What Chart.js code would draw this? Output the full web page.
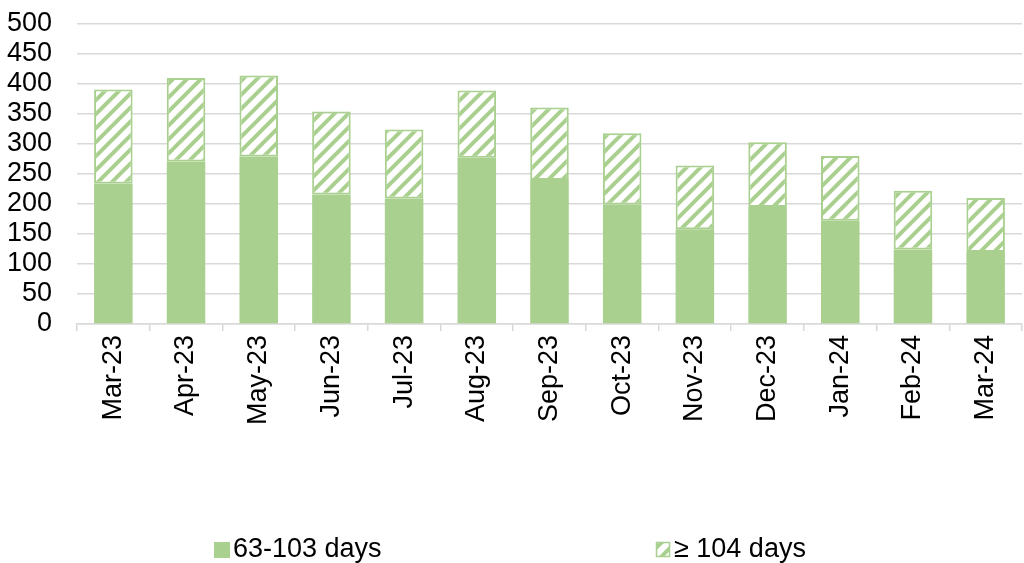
<!DOCTYPE html>
<html>
<head>
<meta charset="utf-8">
<script src="https://cdn.jsdelivr.net/npm/chart.js@4.4.1/dist/chart.umd.min.js"></script>
<style>
  html, body { margin: 0; padding: 0; background: #fff; }
  #wrap { width: 1024px; height: 563px; position: relative; }
</style>
</head>
<body>
<div id="wrap"><canvas id="myChart"></canvas></div>
<script>
// Data.
const months = ['Mar-23', 'Apr-23', 'May-23', 'Jun-23', 'Jul-23', 'Aug-23', 'Sep-23',
  'Oct-23', 'Nov-23', 'Dec-23', 'Jan-24', 'Feb-24', 'Mar-24'];
const days63to103 = [234, 271, 279, 216, 209, 277, 240, 199, 158, 195, 172, 124, 120];
const days104plus = [157, 139, 135, 138, 115, 112, 121, 119, 106, 108, 108, 98, 90];
const seriesNames = ['63-103 days', '\u2265 104 days'];

const green = '#a9d08e';
const gridGrey = '#d9d9d9';
const fontFamily = '"Liberation Sans", Arial, sans-serif';

// Diagonal hatch used for the ≥ 104 days series.
const makeHatch = () => {
  const size = 14;
  const tile = document.createElement('canvas');
  tile.width = size;
  tile.height = size;
  const g = tile.getContext('2d');
  g.fillStyle = '#fff';
  g.fillRect(0, 0, size, size);
  g.strokeStyle = green;
  g.lineWidth = 4;
  g.beginPath();
  g.moveTo(-4, size + 4); g.lineTo(size + 4, -4);
  g.moveTo(-4, 4); g.lineTo(4, -4);
  g.moveTo(size - 4, size + 4); g.lineTo(size + 4, size - 4);
  g.stroke();
  return g.createPattern(tile, 'repeat');
};
const hatch = makeHatch();

// Legend drawn by hand so the two items sit far apart like the original.
const bottomLegend = {
  id: 'bottomLegend',
  afterDraw(chart) {
    const c = chart.ctx;
    c.save();
    c.font = '27px ' + fontFamily;
    c.textBaseline = 'middle';

    c.fillStyle = green;
    c.fillRect(214, 542, 16, 16);
    c.fillStyle = '#000';
    c.fillText(seriesNames[0], 233, 550);

    c.fillStyle = hatch;
    c.fillRect(656, 542, 14, 15);
    c.strokeStyle = green;
    c.lineWidth = 1.5;
    c.strokeRect(656.5, 542.5, 13, 14);
    c.fillStyle = '#000';
    c.fillText(seriesNames[1], 674, 550);
    c.restore();
  }
};

const ctx = document.getElementById('myChart');

const myChart = new Chart(ctx, {
  type: 'bar',
  data: {
    labels: months,
    datasets: [
      {
        label: seriesNames[0],
        data: days63to103,
        backgroundColor: green,
        borderColor: green,
        borderWidth: 0,
      },
      {
        label: seriesNames[1],
        data: days104plus,
        backgroundColor: hatch,
        borderColor: green,
        borderWidth: 2,
        borderSkipped: false,
      },
    ],
  },
  options: {
    responsive: true,
    maintainAspectRatio: false,
    animation: false,
    datasets: {
      bar: {
        categoryPercentage: 1,
        barPercentage: 0.53,
      },
    },
    layout: {
      padding: { left: 5, right: 2, top: 0, bottom: 134 },
    },
    plugins: {
      legend: { display: false },
      tooltip: { enabled: false },
    },
    scales: {
      x: {
        stacked: true,
        // rotated labels ask for side padding we don't want
        afterFit: (scale) => {
          scale.paddingLeft = 0;
          scale.paddingRight = 0;
        },
        grid: {
          offset: true,
          drawOnChartArea: false,
          drawTicks: true,
          tickLength: 7,
          color: gridGrey,
          lineWidth: 1.5,
        },
        border: { color: gridGrey, width: 1.5 },
        ticks: {
          color: '#000',
          font: { family: fontFamily, size: 27 },
          minRotation: 90,
          maxRotation: 90,
          padding: 4,
        },
      },
      y: {
        stacked: true,
        min: 0,
        max: 500,
        afterFit: (scale) => {
          scale.width = 72;
          scale.paddingTop = 24;
          scale.paddingBottom = 0;
        },
        grid: {
          color: gridGrey,
          lineWidth: 1.5,
          drawTicks: false,
        },
        border: { display: false },
        ticks: {
          stepSize: 50,
          autoSkip: false,
          color: '#000',
          font: { family: fontFamily, size: 27, lineHeight: 1 },
          padding: 25,
        },
      },
    },
  },
  plugins: [bottomLegend],
});
</script>
</body>
</html>
